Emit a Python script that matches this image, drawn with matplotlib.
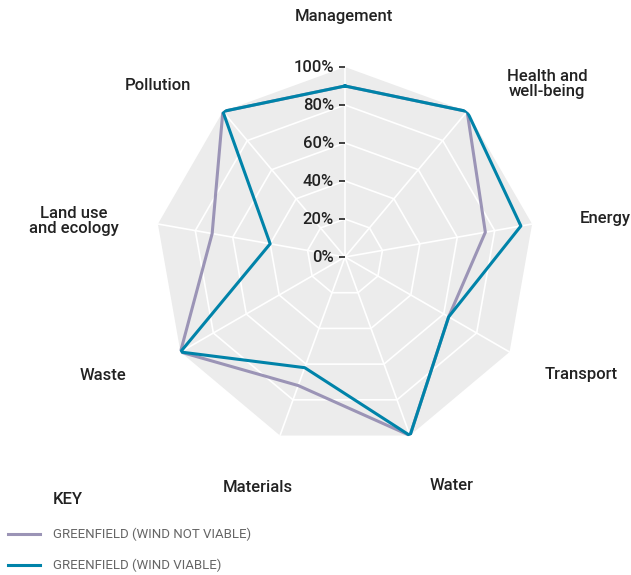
import numpy as np
import matplotlib.pyplot as plt
from matplotlib.lines import Line2D

plt.rcParams['font.family'] = ['Roboto', 'DejaVu Sans']

categories = ['Management', 'Health and\nwell-being', 'Energy', 'Transport', 'Water',
              'Materials', 'Waste', 'Land use\nand ecology', 'Pollution']
wind_not_viable = [90, 100, 75, 63, 100, 72, 100, 71, 100]
wind_viable = [90, 100, 94, 63, 100, 62, 100, 40, 100]
rings = [0, 20, 40, 60, 80, 100]
series_names = ['GREENFIELD (WIND NOT VIABLE)', 'GREENFIELD (WIND VIABLE)']

# label positions in pixels (x, y from top), fig is 631x575
label_pos = [(344, 17), (547, 84), (605, 218), (581, 375), (452, 486),
             (258, 487), (103, 376), (74, 221), (158, 85)]

purple = '#9b94b6'
blue = '#0083a9'
grey = '#ececec'
W, H = 631, 575

fig = plt.figure(figsize=(W / 100, H / 100), dpi=100)
cx, cy, R = 345, 257, 190
ax = fig.add_axes([(cx - R) / W, (H - cy - R) / H, 2 * R / W, 2 * R / H], projection='polar')
ax.set_theta_zero_location('N')
ax.set_theta_direction(-1)
ax.set_ylim(0, 100)
ax.set_frame_on(False)
ax.grid(False)
ax.set_xticks([])
ax.set_yticks([])

n = len(categories)
angles = np.linspace(0, 2 * np.pi, n, endpoint=False)
closed = np.append(angles, angles[0])

# grey background polygon and white web
ax.fill(closed, [rings[-1]] * (n + 1), color=grey, zorder=0, lw=0)
for r in rings[1:-1]:
    ax.plot(closed, [r] * (n + 1), color='white', lw=1.2, zorder=1)
for a in angles:
    ax.plot([a, a], [0, rings[-1]], color='white', lw=1.2, zorder=1)

ax.plot(closed, wind_not_viable + wind_not_viable[:1], color=purple, lw=2.2, zorder=3)
ax.plot(closed, wind_viable + wind_viable[:1], color=blue, lw=2.2, zorder=4)

# radial ticks and labels
for r in rings:
    ax.plot([0], [r], marker=0, markersize=4.5, color='#222222', mew=1.2, zorder=5, clip_on=False)
    ax.annotate(f'{r}%', xy=(0, r), xytext=(-8, 0), textcoords='offset points',
                ha='right', va='center', fontsize=12, fontweight='medium',
                color='#222222', annotation_clip=False)

for lab, (x, y) in zip(categories, label_pos):
    fig.text(x / W, 1 - y / H, lab, ha='center', va='center', fontsize=12,
             fontweight='medium', color='#222222', linespacing=1.05)

# key
fig.text(53 / W, 1 - 499 / H, 'KEY', ha='left', va='center', fontsize=12,
         fontweight='medium', color='#222222')
for i, (name, col) in enumerate(zip(series_names, [purple, blue])):
    y = 1 - (534 + 31 * i) / H
    fig.add_artist(Line2D([8 / W, 40 / W], [y, y], color=col, lw=2.2))
    fig.text(53 / W, y, name, ha='left', va='center', fontsize=9.5, color='#666666')

fig.savefig('out.png', dpi=100)
